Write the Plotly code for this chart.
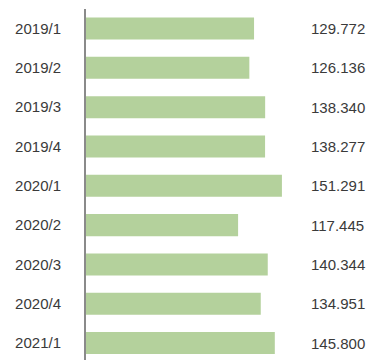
import plotly.graph_objects as go

# Quarterly figures
quarters = ["2019/1", "2019/2", "2019/3", "2019/4", "2020/1",
            "2020/2", "2020/3", "2020/4", "2021/1"]
values = [129.772, 126.136, 138.340, 138.277, 151.291,
          117.445, 140.344, 134.951, 145.800]
value_labels = [f"{v:.3f}" for v in values]

BAR_COLOR = "#b4d19c"
TEXT_COLOR = "#3a3a3a"
FONT = "Liberation Sans, Arial, sans-serif"

W, H = 371, 360
LEFT, TOP = 86, 9

fig = go.Figure(
    go.Bar(
        x=values,
        y=quarters,
        orientation="h",
        marker=dict(color=BAR_COLOR, line=dict(width=0)),
        width=0.56,
        hoverinfo="skip",
    )
)

# value column on the right
for q, lab in zip(quarters, value_labels):
    fig.add_annotation(
        x=(309 - LEFT) / (W - LEFT), xref="paper", xanchor="left",
        y=q, yref="y", yanchor="middle",
        text=lab, showarrow=False,
        font=dict(family=FONT, size=15, color=TEXT_COLOR),
    )

fig.update_layout(
    width=W, height=H,
    margin=dict(l=LEFT, r=0, t=TOP, b=0, pad=0),
    paper_bgcolor="white", plot_bgcolor="white",
    showlegend=False,
    xaxis=dict(range=[0, (W - LEFT) / 1.295], visible=False, fixedrange=True),
    yaxis=dict(
        type="category",
        categoryorder="array", categoryarray=quarters,
        range=[8.43, -0.496],
        showline=True, linecolor="#8a8a8a", linewidth=2,
        showgrid=False, zeroline=False,
        ticks="", ticklabelstandoff=20,
        tickfont=dict(family=FONT, size=15, color=TEXT_COLOR),
        fixedrange=True,
    ),
)

fig.write_html("out.html")
